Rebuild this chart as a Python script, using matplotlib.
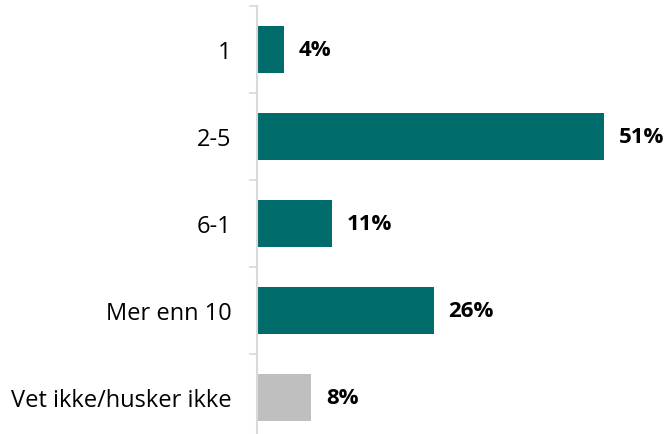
import matplotlib.pyplot as plt
import numpy as np

categories = ["1", "2-5", "6-1", "Mer enn 10", "Vet ikke/husker ikke"]
values = [4, 51, 11, 26, 8]
colors = ["#006B6B", "#006B6B", "#006B6B", "#006B6B", "#BFBFBF"]

plt.rcParams["font.family"] = ["Open Sans", "DejaVu Sans"]

fig = plt.figure(figsize=(6.67, 4.35), dpi=100)
ax = fig.add_axes([0.385, -0.016, 0.612, 1.0])

y = np.arange(len(categories))
ax.barh(y, values, height=0.53, color=colors)
ax.set_ylim(len(categories) - 0.5, -0.5)
ax.set_xlim(0, 60)

# Value labels
for i, v in enumerate(values):
    ax.text(v + 2.2, i, f"{v}%", va="center", ha="left",
            fontsize=16, fontweight="bold", color="#000000")

ax.set_yticks(y)
ax.set_yticklabels(categories, fontsize=17)
ax.tick_params(axis="y", which="major", length=0, pad=18)
ax.set_yticks(np.arange(len(categories) + 1) - 0.5, minor=True)
ax.tick_params(axis="y", which="minor", length=6, width=1.2, color="#D9D9D9")
ax.set_xticks([])

for s in ["top", "right", "bottom"]:
    ax.spines[s].set_visible(False)
ax.spines["left"].set_color("#D9D9D9")
ax.spines["left"].set_linewidth(1.5)

fig.savefig("out.png", dpi=100)
